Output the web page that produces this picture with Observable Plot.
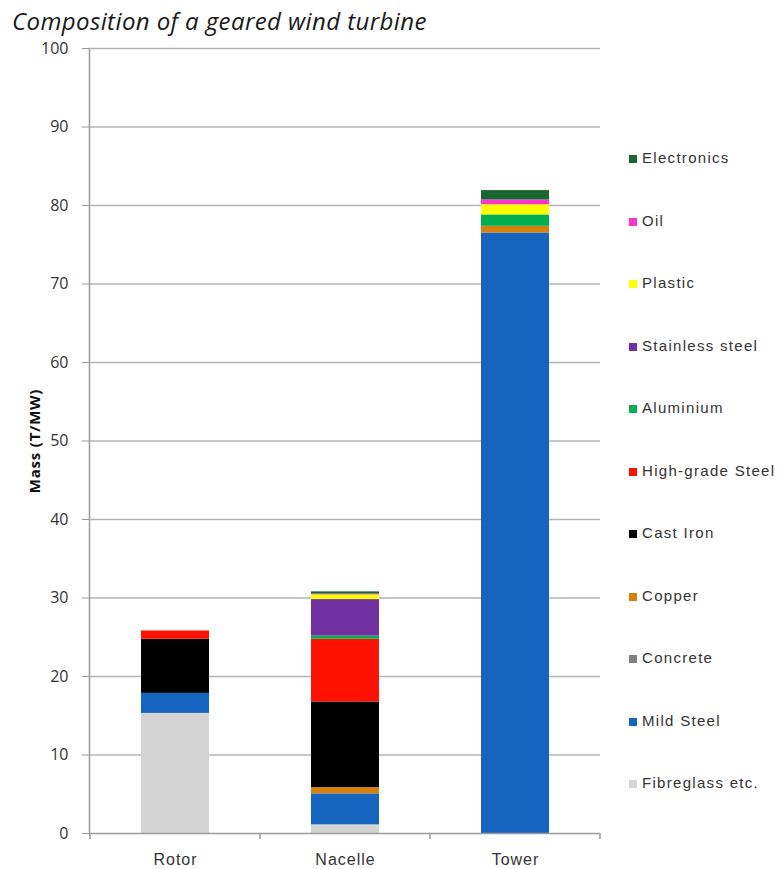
<!DOCTYPE html>
<html>
<head>
<meta charset="utf-8">
<script src="https://cdn.jsdelivr.net/npm/d3@7"></script>
<script src="https://cdn.jsdelivr.net/npm/@observablehq/plot@0.6"></script>
<style>
  html, body { margin: 0; padding: 0; background: #fff; }
  #wrap { position: relative; width: 779px; height: 869px; overflow: hidden; }
  #title {
    height: 40px; line-height: 42px; padding-left: 12px;
    font-family: "Open Sans", sans-serif; font-style: italic; font-size: 24px; color: #1a1a1a;
    letter-spacing: 0.4px; white-space: nowrap;
  }
  #legend {
    position: absolute; left: 629px; top: 127px;
    font-family: "Liberation Sans", Arial, sans-serif; font-size: 15px; color: #333;
    letter-spacing: 1.3px;
  }
  #legend .item { height: 62.5px; line-height: 62.5px; white-space: nowrap; }
  #legend .sw { display: inline-block; width: 8px; height: 8px; margin-right: 5px; vertical-align: 0px; }
  #chart svg g[aria-label="x-axis tick label"] text { letter-spacing: 1px; }
  #chart svg g[aria-label="text"] text { letter-spacing: 0.8px; }
</style>
</head>
<body>
<div id="wrap">
  <div id="title">Composition of a geared wind turbine</div>
  <div id="chart"></div>
  <div id="legend"></div>
</div>
<script>
// Turbine sections along the x axis
const parts = ["Rotor", "Nacelle", "Tower"];

// Materials, stacked from the bottom up
const materials = ["Fibreglass etc.", "Mild Steel", "Concrete", "Copper", "Cast Iron",
  "High-grade Steel", "Aluminium", "Stainless steel", "Plastic", "Oil", "Electronics"];
const materialColors = ["#d4d4d4", "#1565c0", "#808080", "#d8800c", "#000000",
  "#ff1100", "#00b050", "#7030a0", "#ffff00", "#ff33cc", "#1b6530"];

// Mass in tonnes per MW, one value per section (Rotor, Nacelle, Tower)
const fibreglass     = [15.3, 1.1, 0];
const mildSteel      = [2.55, 3.95, 76.5];
const concrete       = [0, 0, 0];
const copper         = [0, 0.8, 0.85];
const castIron       = [6.9, 10.9, 0];
const highGradeSteel = [1.05, 8.0, 0];
const aluminium      = [0, 0.4, 1.45];
const stainlessSteel = [0, 4.65, 0];
const plastic        = [0, 0.6, 1.3];
const oil            = [0, 0.1, 0.6];
const electronics    = [0, 0.28, 1.2];

const yTicks = [0, 10, 20, 30, 40, 50, 60, 70, 80, 90, 100];
const yLabel = "Mass (T/MW)";

const series = [fibreglass, mildSteel, concrete, copper, castIron, highGradeSteel,
  aluminium, stainlessSteel, plastic, oil, electronics];
const rows = [];
materials.forEach((m, i) => parts.forEach((p, j) => {
  if (series[i][j] > 0) rows.push({part: p, material: m, mass: series[i][j]});
}));

// small tick marks at the boundaries between sections on the x axis
function bandBoundaryTicks(index, scales, values, dimensions) {
  const x = scales.x;
  const gap = (x.step() - x.bandwidth()) / 2;
  const edges = parts.map(p => x(p) - gap).concat([x(parts[parts.length - 1]) + x.bandwidth() + gap]);
  const y0 = dimensions.height - dimensions.marginBottom;
  const g = d3.create("svg:g").attr("stroke", "#9a9a9a").attr("stroke-width", 1.5);
  g.selectAll("line").data(edges).join("line")
    .attr("x1", d => d).attr("x2", d => d)
    .attr("y1", y0).attr("y2", y0 + 6);
  return g.node();
}

const chart = Plot.plot({
  width: 779,
  height: 829,
  marginTop: 8,
  marginBottom: 36,
  marginLeft: 89,
  marginRight: 179,
  style: {background: "#fff", overflow: "visible"},
  x: {domain: parts, paddingInner: 0.6, paddingOuter: 0.3, axis: null},
  y: {domain: [0, 100], axis: null},
  color: {domain: materials, range: materialColors},
  marks: [
    Plot.ruleY(yTicks.filter(d => d > 0), {stroke: "#b4b4b4", strokeWidth: 1.5}),
    Plot.barY(rows, {x: "part", y: "mass", fill: "material", order: materials}),
    Plot.ruleY([0], {stroke: "#9a9a9a", strokeWidth: 1.5}),
    Plot.frame({anchor: "left", stroke: "#9a9a9a", strokeWidth: 1.5}),
    Plot.axisY({ticks: yTicks, tickSize: 7, tickPadding: 14, label: null,
      fontSize: 16, fontFamily: "Open Sans, sans-serif", fill: "#333", stroke: "#9a9a9a"}),
    Plot.axisX({tickSize: 0, tickPadding: 20, label: null,
      fontSize: 16, fontFamily: "Liberation Sans, Arial, sans-serif", fill: "#333"}),
    bandBoundaryTicks,
    Plot.text([yLabel], {frameAnchor: "left", textAnchor: "middle", rotate: -90, dx: -54,
      fontSize: 15, fontWeight: "bold", fontFamily: "Open Sans, sans-serif", fill: "#111"})
  ]
});
document.getElementById("chart").appendChild(chart);

// Legend, top entry is the top of the stack
const legend = d3.select("#legend");
materials.slice().reverse().forEach(m => {
  const item = legend.append("div").attr("class", "item");
  item.append("span").attr("class", "sw")
    .style("background", materialColors[materials.indexOf(m)]);
  item.append("span").text(m);
});
</script>
</body>
</html>
